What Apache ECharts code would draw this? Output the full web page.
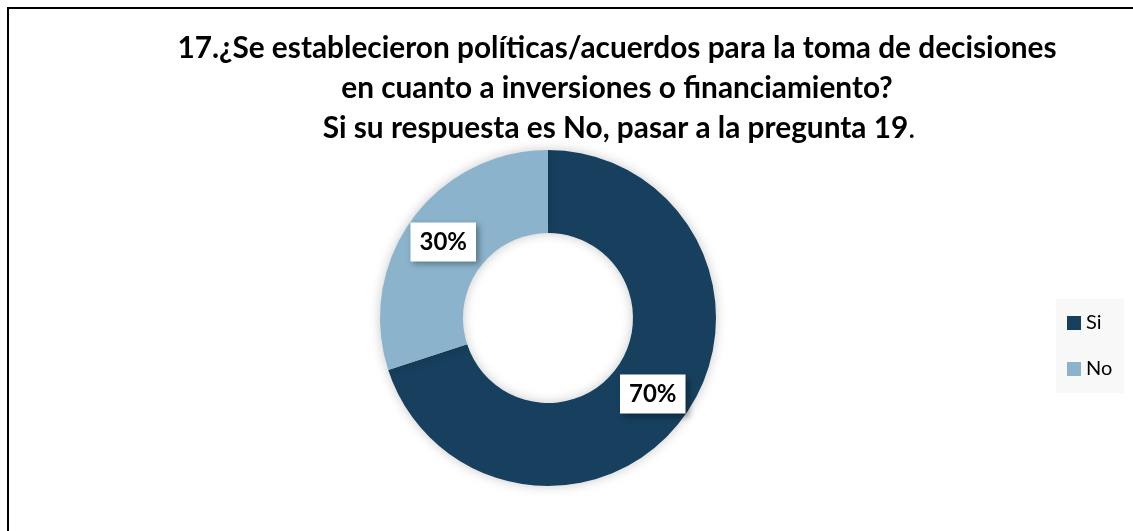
<!DOCTYPE html>
<html><head><meta charset="utf-8">
<script src="https://cdn.jsdelivr.net/npm/echarts@6/dist/echarts.min.js"></script>
<style>html,body{margin:0;padding:0;background:#fff}#c{width:1133px;height:531px}</style>
</head><body><div id="c"></div>
<script>
const categories = ['Si', 'No'];
const values = [70, 30];
const colors = ['#17405f', '#8bb3cc'];
const titleLines = [
  '17.¿Se establecieron políticas/acuerdos para la toma de decisiones',
  'en cuanto a inversiones o financiamiento?',
  'Si su respuesta es No, pasar a la pregunta 19'
];
const FONT = 'Lato, "Open Sans", sans-serif';
const chart = echarts.init(document.getElementById('c'));
const tStyle = {fontFamily: FONT, fontWeight: 'bold', fontSize: 29.8, color: '#000'};
chart.setOption({
  animation: false,
  graphic: [{type: 'rect', shape: {x: 8, y: 8, width: 1200, height: 600}, style: {fill: 'none', stroke: '#000', lineWidth: 2}, silent: true}],
  title: [
    {text: titleLines[0], left: 612, top: 28, textAlign: 'center', textStyle: tStyle},
    {text: titleLines[1], left: 612, top: 68, textAlign: 'center', textStyle: tStyle},
    {text: '{b|' + titleLines[2] + '}{n|.}', left: 614, top: 108, textAlign: 'center',
     textStyle: {rich: {b: tStyle, n: Object.assign({}, tStyle, {fontWeight: 'normal'})}}}
  ],
  legend: {
    orient: 'vertical', left: 1056, top: 299, data: categories,
    itemWidth: 14, itemHeight: 14, itemGap: 26, icon: 'rect',
    backgroundColor: '#f8f8f8', padding: [14, 12, 14, 11],
    textStyle: {fontFamily: FONT, fontSize: 20, color: '#000'}
  },
  series: [{
    type: 'pie', center: [548, 318], radius: [85, 168],
    startAngle: 90, clockwise: true,
    data: categories.map((c, i) => ({name: c, value: values[i], itemStyle: {color: colors[i]}})),
    itemStyle: {shadowBlur: 12, shadowColor: 'rgba(0,0,0,0.22)'},
    label: {
      position: 'inside', formatter: '{d}%', fontFamily: FONT, fontWeight: 'bold', fontSize: 24, color: '#000',
      backgroundColor: '#fff', padding: [8, 9, 7, 9],
      shadowBlur: 6, shadowOffsetX: 3, shadowOffsetY: 3, shadowColor: 'rgba(0,0,0,0.35)'
    },
    labelLine: {show: false},
    emphasis: {disabled: true}
  }]
});
</script></body></html>
